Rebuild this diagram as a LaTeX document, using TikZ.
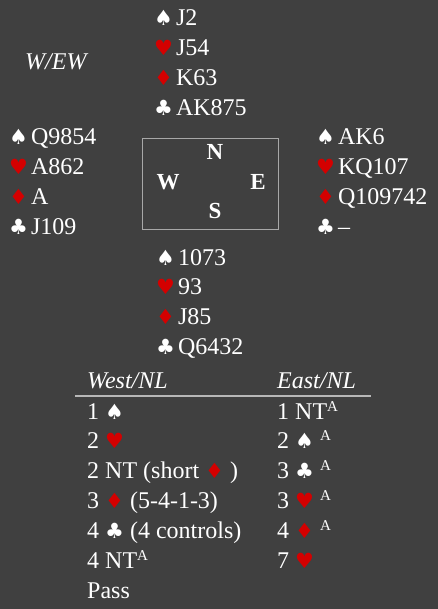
\documentclass[tikz,border=0pt]{standalone}
\usepackage{fontspec}
\setmainfont{Liberation Serif}
\newfontfamily\suitfont{DejaVu Sans}
\usepackage{xcolor}
\usepackage{tikz}
\usetikzlibrary{positioning}
\definecolor{tablebg}{HTML}{404040}
\definecolor{suitred}{HTML}{D40000}
\definecolor{framegray}{HTML}{A8A8A8}
\definecolor{rulegray}{HTML}{B8B8B8}
\newcommand\suitS{{\suitfont\fontsize{21}{21}\selectfont ♠}}
\newcommand\suitH{{\suitfont\fontsize{21}{21}\selectfont\textcolor{suitred}{♥}}}
\newcommand\suitD{{\suitfont\fontsize{21}{21}\selectfont\textcolor{suitred}{♦}}}
\newcommand\suitC{{\suitfont\fontsize{21}{21}\selectfont ♣}}
\newcommand\cardgap{\hspace{3pt}}
\newcommand\bidalert{\raisebox{8pt}{\fontsize{15}{15}\selectfont A}}
\tikzset{
    handrow/.style={
        font=\fontsize{24}{28}\selectfont, text=white,
        inner sep=0pt, text height=17pt, text depth=5pt,
        anchor=base west
    },
    headrow/.style={
        handrow, font=\fontsize{24}{28}\selectfont\itshape
    },
    compass/.style={
        font=\fontsize{23}{26}\selectfont\bfseries, text=white,
        inner sep=0pt, anchor=base
    },
    dealbox/.style={
        rectangle, draw=framegray, line width=0.8pt, inner sep=0pt,
        minimum width=135.6pt, minimum height=90.7pt
    },
    headrule/.style={
        draw=rulegray, line width=1.2pt
    },
}
\begin{document}
\begin{tikzpicture}[x=1pt, y=-1pt, node distance=7.5pt and 0pt]

    % Background
    \fill[tablebg] (0,0) rectangle (438,609);
    \useasboundingbox (0,0) rectangle (438,609);

    % Vulnerability
    \node[headrow] (vul) at (25,70) {W/EW};

    % North
    \node[handrow] (n1) at (154,25.5) {\suitS\cardgap J2};
    \node[handrow, below right=of n1.south west] (n2) {\suitH\cardgap J54};
    \node[handrow, below right=of n2.south west] (n3) {\suitD\cardgap K63};
    \node[handrow, below right=of n3.south west] (n4) {\suitC\cardgap AK875};

    % West
    \node[handrow] (w1) at (9,145) {\suitS\cardgap Q9854};
    \node[handrow, below right=of w1.south west] (w2) {\suitH\cardgap A862};
    \node[handrow, below right=of w2.south west] (w3) {\suitD\cardgap A};
    \node[handrow, below right=of w3.south west] (w4) {\suitC\cardgap J109};

    % East
    \node[handrow] (e1) at (316,145) {\suitS\cardgap AK6};
    \node[handrow, below right=of e1.south west] (e2) {\suitH\cardgap KQ107};
    \node[handrow, below right=of e2.south west] (e3) {\suitD\cardgap Q109742};
    \node[handrow, below right=of e3.south west] (e4) {\suitC\cardgap --};

    % South
    \node[handrow] (s1) at (156,265) {\suitS\cardgap 1073};
    \node[handrow, below right=of s1.south west] (s2) {\suitH\cardgap 93};
    \node[handrow, below right=of s2.south west] (s3) {\suitD\cardgap J85};
    \node[handrow, below right=of s3.south west] (s4) {\suitC\cardgap Q6432};

    % Table
    \node[dealbox] (table) at (210.5,183.6) {};
    \node[compass] (seatN) at (215,160) {N};
    \node[compass] (seatW) at (168,190) {W};
    \node[compass] (seatE) at (258,190) {E};
    \node[compass] (seatS) at (215,219) {S};

    % Auction
    \node[headrow] (westhead) at (87,388) {West/NL};
    \node[headrow] (easthead) at (277,388) {East/NL};
    \coordinate (ruleL) at (75,396);
    \coordinate (ruleR) at (371,396);
    \draw[headrule] (ruleL) -- (ruleR);

    \node[handrow] (wb1) at (87,419) {1~\suitS};
    \node[handrow, below right=of wb1.south west] (wb2) {2~\suitH};
    \node[handrow, below right=of wb2.south west] (wb3) {2~NT (short \suitD~)};
    \node[handrow, below right=of wb3.south west] (wb4) {3~\suitD~(5-4-1-3)};
    \node[handrow, below right=of wb4.south west] (wb5) {4~\suitC~(4 controls)};
    \node[handrow, below right=of wb5.south west] (wb6) {4~NT\bidalert};
    \node[handrow, below right=of wb6.south west] (wb7) {Pass};

    \node[handrow] (eb1) at (277,419) {1~NT\bidalert};
    \node[handrow, below right=of eb1.south west] (eb2) {2~\suitS~\bidalert};
    \node[handrow, below right=of eb2.south west] (eb3) {3~\suitC~\bidalert};
    \node[handrow, below right=of eb3.south west] (eb4) {3~\suitH~\bidalert};
    \node[handrow, below right=of eb4.south west] (eb5) {4~\suitD~\bidalert};
    \node[handrow, below right=of eb5.south west] (eb6) {7~\suitH};

\end{tikzpicture}
\end{document}
